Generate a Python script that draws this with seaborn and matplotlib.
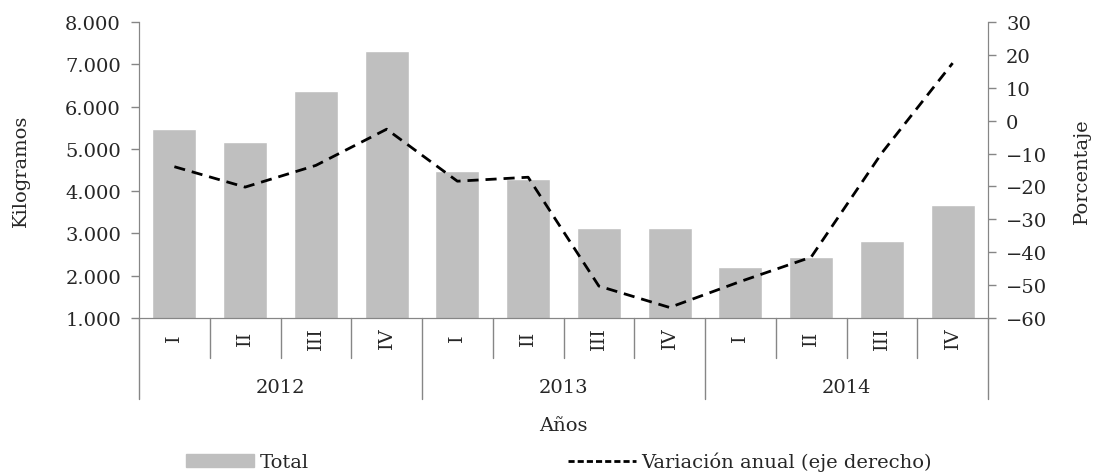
import numpy as np
import pandas as pd
import seaborn as sns
import matplotlib.pyplot as plt
from matplotlib.ticker import FuncFormatter
from matplotlib.patches import Patch
from matplotlib.lines import Line2D

years = ['2012', '2013', '2014']
quarters = ['I', 'II', 'III', 'IV']
total = [5480, 5160, 6365, 7325, 4465, 4280, 3130, 3130, 2205, 2435, 2830, 3680]
variacion = [-14.0, -20.2, -13.6, -2.6, -18.4, -17.2, -50.3, -56.8, -48.9, -41.5, -9.8, 17.5]

sns.set_style('white')
plt.rcParams['font.family'] = ['DejaVu Serif']
fs = 14

periodos = [y + '-' + q for y in years for q in quarters]
df = pd.DataFrame({'periodo': periodos, 'total': total, 'variacion': variacion})

gris = '#868686'
fig, ax = plt.subplots(figsize=(10.95, 4.77), dpi=100)
fig.subplots_adjust(left=139/1095, right=988/1095, top=1-23/477, bottom=1-319/477)

sns.barplot(data=df, x='periodo', y='total', order=periodos, color='#BFBFBF',
            saturation=1, width=0.62, ax=ax)
ax.set_ylim(1000, 8000)
ax.set_yticks(range(1000, 8001, 1000))
ax.yaxis.set_major_formatter(FuncFormatter(lambda v, p: f'{int(v):,}'.replace(',', '.')))
ax.set_xlim(-0.5, len(periodos) - 0.5)
ax.set_xticks([])
ax.set_xlabel('')
ax.set_ylabel('Kilogramos', fontsize=fs)
ax.yaxis.set_label_coords(-0.128, 0.5)

ax2 = ax.twinx()
sns.lineplot(x=np.arange(len(periodos)), y=df['variacion'], color='black', lw=2, ax=ax2)
ax2.lines[0].set_dashes([4, 2.5])
ax2.set_ylim(-60, 30)
ax2.set_yticks(range(-60, 31, 10))
ax2.set_ylabel('Porcentaje', fontsize=fs)
ax2.yaxis.set_label_coords(1.100, 0.5)

for a in (ax, ax2):
    for s in a.spines.values():
        s.set_color(gris)
    a.spines['top'].set_visible(False)
    a.tick_params(axis='y', length=6, color=gris, width=1, pad=7, labelsize=fs)
ax.tick_params(axis='y', left=True, right=False)
ax2.tick_params(axis='y', left=False, right=True)

# multilevel category axis
tr = ax.get_xaxis_transform()
n = len(periodos)
for i in range(n + 1):
    x = i - 0.5
    bottom = -0.274 if i % 4 == 0 else -0.135
    ax.plot([x, x], [0, bottom], transform=tr, color=gris, lw=1, clip_on=False)
for i, p in enumerate(periodos):
    ax.text(i, -0.065, p.split('-')[1], transform=tr, rotation=90,
            ha='center', va='center', fontsize=fs)
for j, y in enumerate(years):
    ax.text(j * 4 + 1.5, -0.233, y, transform=tr, ha='center', va='center', fontsize=fs)
ax.text(0.5, -0.36, 'Años', transform=ax.transAxes, ha='center', va='center', fontsize=fs)

handles = [Patch(color='#BFBFBF'),
           Line2D([], [], color='black', lw=2, dashes=[2.2, 1.1])]
fig.legend(handles, ['Total', 'Variación anual (eje derecho)'], loc='center',
           bbox_to_anchor=(0.5105, 0.03), ncol=2, frameon=False, fontsize=fs,
           handlelength=3.5, handletextpad=0.3, columnspacing=13.3)

plt.savefig('out.png', dpi=100)
